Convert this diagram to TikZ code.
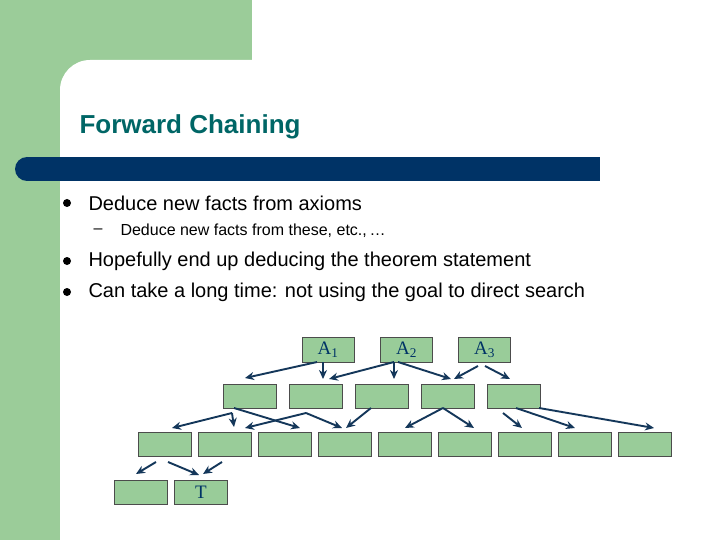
\documentclass[tikz,border=0pt]{standalone}
\usepackage{fontspec}
\usetikzlibrary{arrows.meta}
\setmainfont{Liberation Sans}
\newfontfamily\serifff{Liberation Serif}
\definecolor{bggreen}{RGB}{155,204,153}
\definecolor{boxgreen}{RGB}{153,204,153}
\definecolor{titleteal}{RGB}{0,102,102}
\definecolor{barblue}{RGB}{0,51,102}
\definecolor{arr}{RGB}{20,55,90}
\begin{document}
\begin{tikzpicture}[x=1pt,y=-1pt,
  bx/.style={draw=black!70,fill=boxgreen,minimum width=53pt,minimum height=24pt,inner sep=0pt,font=\serifff\fontsize{19}{19}\selectfont,text=barblue},
  ar/.style={draw=arr,line width=1.9pt,-{Stealth[length=9pt,width=8pt]}},
  bt/.style={anchor=west,font=\fontsize{20}{22}\selectfont,text=black}]
\useasboundingbox (0,0) rectangle (720,540);
\fill[bggreen] (0,0) rectangle (252,90);
\fill[bggreen] (0,0) rectangle (60,540);
\fill[white] (60,540) [rounded corners=30] -- (60,60) [sharp corners] -- (720,60) -- (720,540) -- cycle;
\node[anchor=west,text=titleteal,font=\bfseries\fontsize{26}{28}\selectfont] (title) at (76,127) {Forward Chaining};
\fill[barblue] (27,157) rectangle (600,181);
\fill[barblue] (27,169) circle[radius=12];
\foreach \y in {203,261,292}{\fill (67,\y) circle[radius=4];}
\node[bt] (b1) at (85,203) {Deduce new facts from axioms};
\node[anchor=west,font=\fontsize{16}{18}\selectfont] (d1) at (90,231) {–};
\node[anchor=west,font=\fontsize{16}{18}\selectfont] (s1) at (117,231) {Deduce new facts from these, etc.,\,\dots};
\node[bt] (b2) at (85,261) {Hopefully end up deducing the theorem statement};
\node[bt] (b3) at (85,292) {Can take a long time: not using the goal to direct search};
\node[bx,minimum width=52pt,minimum height=25pt] (a1) at (328,349.5) {A\textsubscript{1}};
\node[bx,minimum width=52pt,minimum height=25pt] (a2) at (406.5,349.5) {A\textsubscript{2}};
\node[bx,minimum width=52pt,minimum height=25pt] (a3) at (484.5,349.5) {A\textsubscript{3}};
\foreach \x [count=\i] in {249.5,315.5,381.5,447.5,513.5}{\node[bx] (r\i) at (\x,396) {};}
\foreach \x [count=\i] in {165,225,285,345,405,465,525,585,645}{\node[bx] (q\i) at (\x,444) {};}
\node[bx] (t1) at (141,492) {};
\node[bx] (t2) at (201,492) {T};
\draw[ar] (317,362) -- (245,378);
\draw[ar] (323,362) -- (323,379);
\draw[ar] (394,362) -- (329,379);
\draw[ar] (394,362) -- (394,379);
\draw[ar] (398,362) -- (451,379);
\draw[ar] (478,366) -- (454,379);
\draw[ar] (485,366) -- (510,379);
\draw[ar] (232,413) -- (172,428);
\draw[ar] (232,413) -- (234,427);
\draw[ar] (234,408) -- (300,428);
\draw[ar] (306,413) -- (245,428);
\draw[ar] (306,413) -- (342,428);
\draw[ar] (371,408) -- (346,428);
\draw[ar] (443,408) -- (405,428);
\draw[ar] (443,408) -- (474,428);
\draw[ar] (503,413) -- (522,428);
\draw[ar] (516,408) -- (575,428);
\draw[ar] (539,408) -- (654,428);
\draw[ar] (156,462) -- (136,474);
\draw[ar] (168,462) -- (199,475);
\draw[ar] (222,462) -- (203,474);
\end{tikzpicture}
\end{document}
